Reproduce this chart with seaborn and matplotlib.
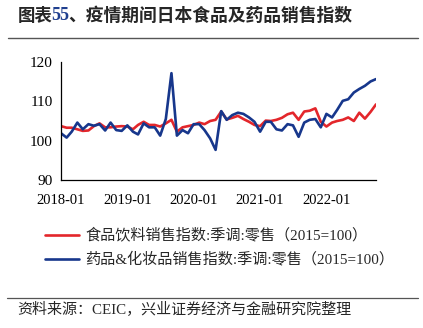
import numpy as np
import pandas as pd
import matplotlib
matplotlib.use("Agg")
import matplotlib.pyplot as plt
import matplotlib.dates as mdates
import seaborn as sns

sns.set_theme(style="white")
plt.rcParams['font.family'] = ['Noto Sans CJK SC', 'DejaVu Sans']

months = pd.date_range("2018-01-01", "2022-10-01", freq="MS")
food = [103.7, 103.3, 103.3, 102.9, 102.5, 102.6, 103.7, 104.4, 103.4, 103.4, 103.6, 103.7,
        103.6, 102.9, 104.0, 104.8, 104.0, 104.0, 103.6, 104.4, 105.3, 102.3, 103.4, 103.7,
        104.0, 104.6, 104.2, 105.0, 105.3, 107.4, 105.4, 105.8, 106.3, 105.5, 104.8, 104.0,
        103.7, 105.1, 105.0, 105.3, 105.8, 106.7, 107.1, 105.3, 107.4, 107.6, 108.2, 104.8,
        103.6, 104.6, 105.0, 105.3, 105.9, 105.0, 107.1, 105.6, 107.3, 109.2]
drug = [101.9, 100.8, 102.3, 104.6, 102.9, 104.2, 103.8, 104.2, 102.6, 104.6, 102.7, 102.5,
        103.9, 102.3, 101.6, 104.4, 103.4, 103.4, 101.3, 105.5, 117.1, 101.3, 102.7, 101.9,
        104.2, 104.2, 102.7, 100.6, 97.7, 107.5, 105.3, 106.5, 107.1, 106.8, 105.9, 104.8,
        102.3, 104.8, 104.8, 102.9, 102.6, 104.2, 103.9, 101.0, 104.6, 105.3, 105.5, 103.4,
        106.8, 105.9, 107.8, 110.1, 110.5, 112.2, 113.1, 113.9, 115.0, 115.6]
labels = ["食品饮料销售指数:季调:零售（2015=100）",
          "药品&化妆品销售指数:季调:零售（2015=100）"]
colors = ["#E3262B", "#17378C"]

df = pd.DataFrame({"date": list(months) * 2,
                   "value": food + drug,
                   "series": [labels[0]] * len(food) + [labels[1]] * len(drug)})

W, H = 423, 328
fig = plt.figure(figsize=(W / 100, H / 100), dpi=100)
ax = fig.add_axes([61 / W, 1 - 180.3 / H, (376 - 61) / W, (180.3 - 61.7) / H])

sns.lineplot(data=df, x="date", y="value", hue="series", palette=colors,
             linewidth=1.9, ax=ax, legend=False)

ax.set_ylim(90, 120)
ax.set_yticks([90, 100, 110, 120])
ax.set_xlim(months[0], months[-1])
ax.xaxis.set_major_locator(mdates.YearLocator(month=1))
ax.xaxis.set_major_formatter(mdates.DateFormatter("%Y-%m"))
ax.set_xlabel("")
ax.set_ylabel("")
for s in ["top", "right"]:
    ax.spines[s].set_visible(False)
for s in ["left", "bottom"]:
    ax.spines[s].set_color("black")
    ax.spines[s].set_linewidth(0.9)
ax.tick_params(axis="both", direction="in", length=4, width=0.9, colors="black", pad=4)
ax.tick_params(axis="x", labelsize=10.5, pad=10)
ax.tick_params(axis="y", labelsize=11, pad=6)
for lab in ax.get_xticklabels() + ax.get_yticklabels():
    lab.set_fontfamily("Liberation Serif")

mixed = ["Liberation Serif", "Noto Sans CJK SC"]

# title
fig.text(18 / W, 1 - 16 / H, "图表", fontsize=12.5, fontweight="bold", va="center", ha="left")
fig.text(51 / W, 1 - 16 / H, "55", fontsize=13, color="#1F3F8F", va="center", ha="left",
         family="Liberation Serif", fontweight="bold")
fig.text(68 / W, 1 - 16 / H, "、疫情期间日本食品及药品销售指数", fontsize=12.8,
         fontweight="bold", va="center", ha="left")
fig.add_artist(plt.Line2D([8 / W, 418 / W], [1 - 37.5 / H, 1 - 37.5 / H],
                          color="#555555", linewidth=1.0))

# legend
for i, (lab, c) in enumerate(zip(labels, colors)):
    y = 1 - (235 + 24 * i) / H
    fig.add_artist(plt.Line2D([45 / W, 79 / W], [y, y], color=c, linewidth=1.9))
    fig.text(85 / W, y, lab, fontsize=10.9, va="center", ha="left", family=mixed)

# source
fig.add_artist(plt.Line2D([7 / W, 418 / W], [1 - 297.7 / H, 1 - 297.7 / H],
                          color="#555555", linewidth=0.9))
fig.text(17 / W, 1 - 310 / H, "资料来源：CEIC，兴业证券经济与金融研究院整理", fontsize=10.8,
         va="center", ha="left", family=mixed)

fig.savefig("out.png", dpi=100)
